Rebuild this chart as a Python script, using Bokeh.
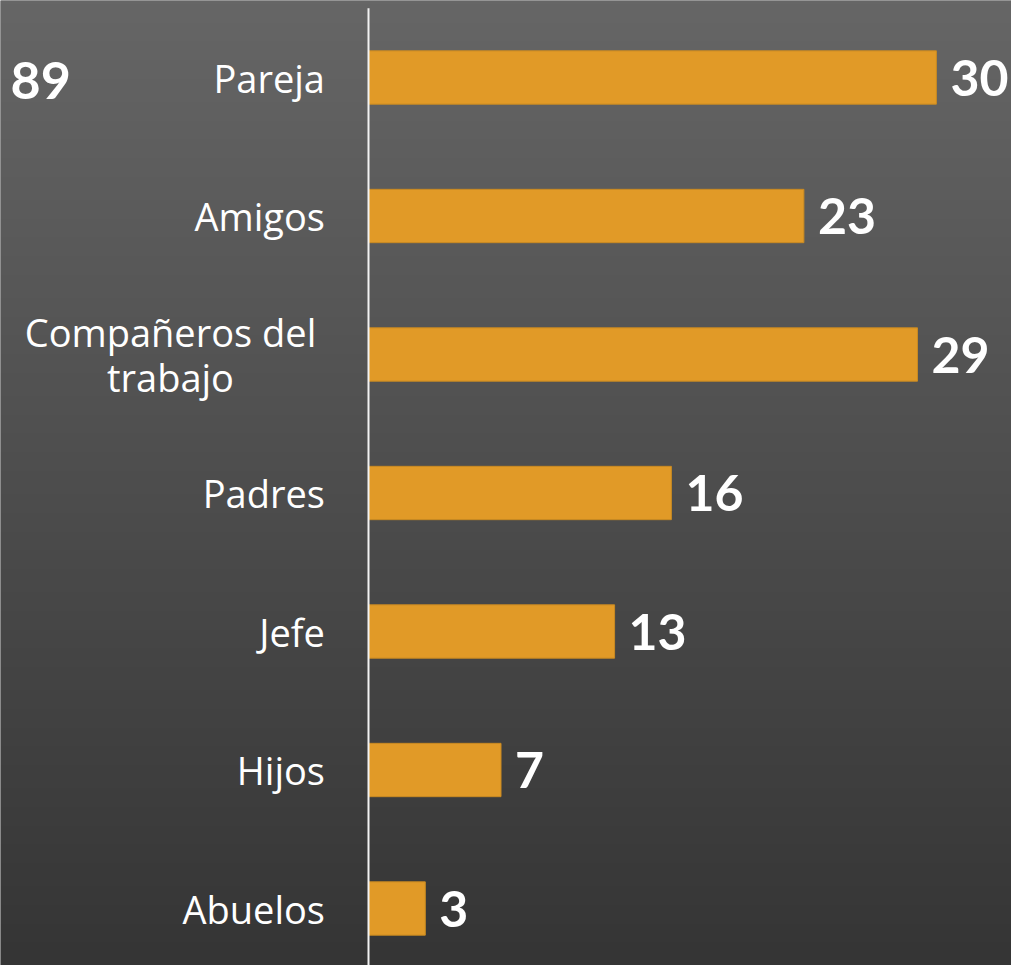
import numpy as np
from bokeh.plotting import figure
from bokeh.models import ColumnDataSource, Range1d
from bokeh.core.properties import value
from bokeh.embed import file_html
from bokeh.resources import INLINE

categories = ["Pareja", "Amigos", "Compañeros del\ntrabajo", "Padres", "Jefe", "Hijos", "Abuelos"]
values = [30, 23, 29, 16, 13, 7, 3]
value_labels = [str(v) for v in values]
corner_label = "89"

W, H = 1011, 965
px_per_unit = 18.93
zero_px = 368
band_px = 138.5
first_center_px = 77
x0 = -zero_px / px_per_unit
x1 = (W - zero_px) / px_per_unit
y_top = -first_center_px / band_px
y_bot = (H - first_center_px) / band_px

pos = list(range(len(categories)))

p = figure(width=W, height=H, output_backend="svg", toolbar_location=None,
           x_range=Range1d(x0, x1), y_range=Range1d(y_bot, y_top),
           min_border=0, min_border_left=0, min_border_right=0,
           min_border_top=0, min_border_bottom=0)
p.axis.visible = False
p.grid.visible = False
p.outline_line_color = None
p.background_fill_color = "#4d4d4d"
p.border_fill_color = "#4d4d4d"

# vertical gradient background (row 0 at the top of the screen, since y is flipped)
n = 256
top = np.array([0x66, 0x66, 0x66], dtype=float)
bot = np.array([0x35, 0x35, 0x35], dtype=float)
t = np.linspace(0, 1, n)[:, None]
cols = (top * (1 - t) + bot * t).astype(np.uint32)
img = np.empty((n, 1), dtype=np.uint32)
img[:, 0] = (255 << 24) | (cols[:, 2] << 16) | (cols[:, 1] << 8) | cols[:, 0]
p.image_rgba(image=[img], x=x0, y=y_top, dw=x1 - x0, dh=y_bot - y_top)

src = ColumnDataSource(dict(pos=pos, cat=categories, val=values, lab=value_labels))
p.hbar(y="pos", right="val", left=0, height=0.385, source=src,
       fill_color="#E19A27", line_color="#C98A22", line_width=1)

# vertical axis line starting at the top band edge
p.segment(x0=[0], y0=[-0.5], x1=[0], y1=[y_bot], line_color="#f2f2f2", line_width=2)

p.text(x="val", y="pos", text="lab", source=src, x_offset=14,
       text_font=value("Lato"), text_font_style="bold", text_font_size="50px",
       text_color="white", text_align="left", text_baseline="middle")

single_pos = [i for i, c in enumerate(categories) if "\n" not in c]
multi_pos = [i for i, c in enumerate(categories) if "\n" in c]
p.text(x=[-2.3] * len(single_pos), y=single_pos, text=[categories[i] for i in single_pos],
       text_font=value("Open Sans"), text_font_size="38px",
       text_color="white", text_align="right", text_baseline="middle")
p.text(x=[-10.46] * len(multi_pos), y=multi_pos, text=[categories[i] for i in multi_pos],
       text_font=value("Open Sans"), text_font_size="38px", text_line_height=0.86,
       text_color="white", text_align="center", text_baseline="middle")

p.text(x=[x0 + 10 / px_per_unit], y=[0], text=[corner_label], y_offset=3,
       text_font=value("Lato"), text_font_style="bold", text_font_size="52px",
       text_color="white", text_align="left", text_baseline="middle")

open("out.html", "w").write(file_html(p, INLINE))
